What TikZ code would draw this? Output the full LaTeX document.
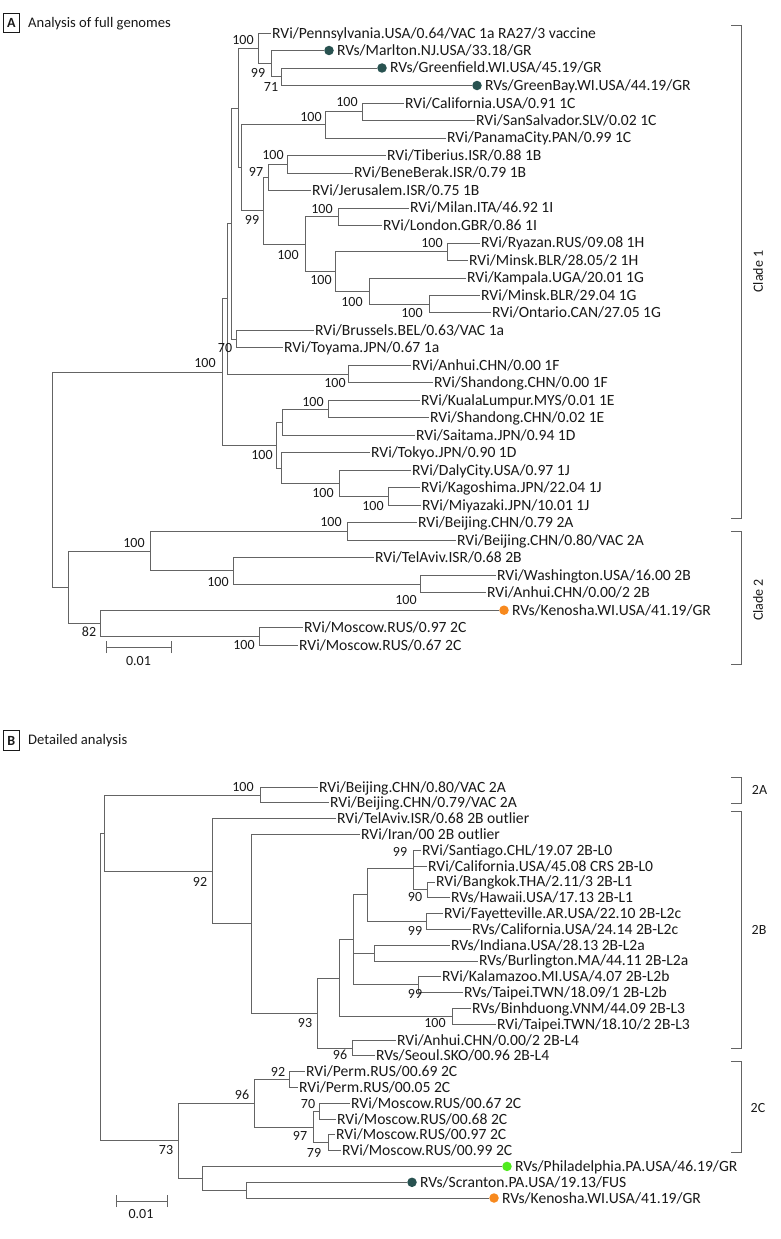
\documentclass[tikz,border=0pt]{standalone}
\usepackage{fontspec}
\setmainfont{Carlito}
\definecolor{lineg}{RGB}{100,100,100}
\definecolor{txt}{RGB}{25,25,25}
\definecolor{dteal}{RGB}{40,82,80}
\definecolor{dorange}{RGB}{247,137,30}
\definecolor{dgreen}{RGB}{80,235,30}
\newcommand\lblfont{\fontsize{15.6}{18}\selectfont}
\newcommand\numfont{\fontsize{14}{16}\selectfont}
\newcommand\ttlfont{\fontsize{14.6}{17}\selectfont}
\begin{document}
\begin{tikzpicture}[x=1pt,y=-1pt,
  br/.style={draw=lineg, line width=0.8pt},
  leaf/.style={anchor=west, inner xsep=1pt, inner ysep=0pt, text height=10pt, text depth=0pt, font=\lblfont, text=txt},
  bs/.style={inner sep=0pt, text height=9pt, text depth=0pt, font=\numfont, text=txt},
  dotn/.style={circle, inner sep=0pt, minimum size=9.5pt},
  panelbox/.style={draw=txt, line width=0.8pt, minimum width=16pt, minimum height=19.5pt, inner sep=0pt, font=\numfont\bfseries, text=txt},
  ttl/.style={anchor=west, inner sep=0pt, font=\ttlfont, text=txt},
  cladelbl/.style={inner sep=0pt, font=\numfont, text=txt}]
\useasboundingbox[fill=white] (0,0) rectangle (780,1239);

% ================= PANEL A =================
\node[panelbox] (boxA) at (11.3,23) {A};
\node[ttl] (titleA) at (28,24) {Analysis of full genomes};

% leaves
\node[leaf] (a1) at (271,33.0) {RVi/Pennsylvania.USA/0.64/VAC 1a RA27/3 vaccine};
\node[dotn, fill=dteal] (d2) at (329,50.5) {};
\node[leaf] (a2) at ([xshift=2pt]d2.east) {RVs/Marlton.NJ.USA/33.18/GR};
\node[dotn, fill=dteal] (d3) at (382,68.0) {};
\node[leaf] (a3) at ([xshift=2pt]d3.east) {RVs/Greenfield.WI.USA/45.19/GR};
\node[dotn, fill=dteal] (d4) at (477,85.5) {};
\node[leaf] (a4) at ([xshift=2pt]d4.east) {RVs/GreenBay.WI.USA/44.19/GR};
\node[leaf] (a5) at (404,103.0) {RVi/California.USA/0.91 1C};
\node[leaf] (a6) at (475,120.5) {RVi/SanSalvador.SLV/0.02 1C};
\node[leaf] (a7) at (446,137.9) {RVi/PanamaCity.PAN/0.99 1C};
\node[leaf] (a8) at (386,155.4) {RVi/Tiberius.ISR/0.88 1B};
\node[leaf] (a9) at (353,172.9) {RVi/BeneBerak.ISR/0.79 1B};
\node[leaf] (a10) at (311,190.4) {RVi/Jerusalem.ISR/0.75 1B};
\node[leaf] (a11) at (409,207.9) {RVi/Milan.ITA/46.92 1I};
\node[leaf] (a12) at (382,225.4) {RVi/London.GBR/0.86 1I};
\node[leaf] (a13) at (480,242.9) {RVi/Ryazan.RUS/09.08 1H};
\node[leaf] (a14) at (468,260.4) {RVi/Minsk.BLR/28.05/2 1H};
\node[leaf] (a15) at (466,277.9) {RVi/Kampala.UGA/20.01 1G};
\node[leaf] (a16) at (480,295.4) {RVi/Minsk.BLR/29.04 1G};
\node[leaf] (a17) at (491,312.8) {RVi/Ontario.CAN/27.05 1G};
\node[leaf] (a18) at (314,330.3) {RVi/Brussels.BEL/0.63/VAC 1a};
\node[leaf] (a19) at (283,347.8) {RVi/Toyama.JPN/0.67 1a};
\node[leaf] (a20) at (411,365.3) {RVi/Anhui.CHN/0.00 1F};
\node[leaf] (a21) at (433,382.8) {RVi/Shandong.CHN/0.00 1F};
\node[leaf] (a22) at (420,400.3) {RVi/KualaLumpur.MYS/0.01 1E};
\node[leaf] (a23) at (429,417.8) {RVi/Shandong.CHN/0.02 1E};
\node[leaf] (a24) at (415,435.3) {RVi/Saitama.JPN/0.94 1D};
\node[leaf] (a25) at (370,452.8) {RVi/Tokyo.JPN/0.90 1D};
\node[leaf] (a26) at (411,470.3) {RVi/DalyCity.USA/0.97 1J};
\node[leaf] (a27) at (420,487.7) {RVi/Kagoshima.JPN/22.04 1J};
\node[leaf] (a28) at (421,505.2) {RVi/Miyazaki.JPN/10.01 1J};
\node[leaf] (a29) at (417,522.7) {RVi/Beijing.CHN/0.79 2A};
\node[leaf] (a30) at (456,540.2) {RVi/Beijing.CHN/0.80/VAC 2A};
\node[leaf] (a31) at (374,557.7) {RVi/TelAviv.ISR/0.68 2B};
\node[leaf] (a32) at (496,575.2) {RVi/Washington.USA/16.00 2B};
\node[leaf] (a33) at (486,592.7) {RVi/Anhui.CHN/0.00/2 2B};
\node[dotn, fill=dorange] (d34) at (504,610.2) {};
\node[leaf] (a34) at ([xshift=2pt]d34.east) {RVs/Kenosha.WI.USA/41.19/GR};
\node[leaf] (a35) at (303,627.7) {RVi/Moscow.RUS/0.97 2C};
\node[leaf] (a36) at (298,645.2) {RVi/Moscow.RUS/0.67 2C};

% internal nodes
\coordinate (A71) at (281,76.75);
\coordinate (A99a) at (271,63.6);
\coordinate (A100a) at (258,48.3);
\coordinate (A1C2) at (362,111.75);
\coordinate (A1C) at (325,124.8);
\coordinate (A1Bp) at (287,164.2);
\coordinate (A97) at (268,177.3);
\coordinate (A1I) at (338,216.6);
\coordinate (A1H) at (447,251.6);
\coordinate (AG2) at (429,304.1);
\coordinate (A1G) at (369,291.0);
\coordinate (AHG) at (335,271.3);
\coordinate (AIHG) at (305,244.0);
\coordinate (A99b) at (263,210.6);
\coordinate (AX1) at (241,167.7);
\coordinate (AX2) at (238,108.0);
\coordinate (A1a) at (236,339.05);
\coordinate (A70) at (231,223.5);
\coordinate (A1F) at (348,374.05);
\coordinate (AX3) at (227,298.8);
\coordinate (A1E) at (328,409.05);
\coordinate (AED) at (282,422.2);
\coordinate (AKM) at (388,496.45);
\coordinate (A1J) at (339,483.4);
\coordinate (ATJ) at (281,468.1);
\coordinate (ADJ) at (276,445.1);
\coordinate (AC1) at (222,372.0);
\coordinate (A2A) at (347,531.45);
\coordinate (AWA) at (420,583.95);
\coordinate (A2B) at (233,570.8);
\coordinate (A2AB) at (150,551.1);
\coordinate (AMM) at (259,636.45);
\coordinate (A82) at (100,623.3);
\coordinate (AC2) at (68,587.2);
\coordinate (Aroot) at (52,479.6);

% branches
\draw[br] (A71) |- (d3.west);  \draw[br] (A71) |- (d4.west);
\draw[br] (A99a) |- (d2.west); \draw[br] (A99a) |- (A71);
\draw[br] (A100a) |- (a1.west); \draw[br] (A100a) |- (A99a);
\draw[br] (A1C2) |- (a5.west); \draw[br] (A1C2) |- (a6.west);
\draw[br] (A1C) |- (A1C2); \draw[br] (A1C) |- (a7.west);
\draw[br] (A1Bp) |- (a8.west); \draw[br] (A1Bp) |- (a9.west);
\draw[br] (A97) |- (A1Bp); \draw[br] (A97) |- (a10.west);
\draw[br] (A1I) |- (a11.west); \draw[br] (A1I) |- (a12.west);
\draw[br] (A1H) |- (a13.west); \draw[br] (A1H) |- (a14.west);
\draw[br] (AG2) |- (a16.west); \draw[br] (AG2) |- (a17.west);
\draw[br] (A1G) |- (a15.west); \draw[br] (A1G) |- (AG2);
\draw[br] (AHG) |- (A1H); \draw[br] (AHG) |- (A1G);
\draw[br] (AIHG) |- (A1I); \draw[br] (AIHG) |- (AHG);
\draw[br] (A99b) |- (A97); \draw[br] (A99b) |- (AIHG);
\draw[br] (AX1) |- (A1C); \draw[br] (AX1) |- (A99b);
\draw[br] (AX2) |- (A100a); \draw[br] (AX2) |- (AX1);
\draw[br] (A1a) |- (a18.west); \draw[br] (A1a) |- (a19.west);
\draw[br] (A70) |- (AX2); \draw[br] (A70) |- (A1a);
\draw[br] (A1F) |- (a20.west); \draw[br] (A1F) |- (a21.west);
\draw[br] (AX3) |- (A70); \draw[br] (AX3) |- (A1F);
\draw[br] (A1E) |- (a22.west); \draw[br] (A1E) |- (a23.west);
\draw[br] (AED) |- (A1E); \draw[br] (AED) |- (a24.west);
\draw[br] (AKM) |- (a27.west); \draw[br] (AKM) |- (a28.west);
\draw[br] (A1J) |- (a26.west); \draw[br] (A1J) |- (AKM);
\draw[br] (ATJ) |- (a25.west); \draw[br] (ATJ) |- (A1J);
\draw[br] (ADJ) |- (AED); \draw[br] (ADJ) |- (ATJ);
\draw[br] (AC1) |- (AX3); \draw[br] (AC1) |- (ADJ);
\draw[br] (A2A) |- (a29.west); \draw[br] (A2A) |- (a30.west);
\draw[br] (AWA) |- (a32.west); \draw[br] (AWA) |- (a33.west);
\draw[br] (A2B) |- (a31.west); \draw[br] (A2B) |- (AWA);
\draw[br] (A2AB) |- (A2A); \draw[br] (A2AB) |- (A2B);
\draw[br] (AMM) |- (a35.west); \draw[br] (AMM) |- (a36.west);
\draw[br] (A82) |- (d34.west); \draw[br] (A82) |- (AMM);
\draw[br] (AC2) |- (A2AB); \draw[br] (AC2) |- (A82);
\draw[br] (Aroot) |- (AC1); \draw[br] (Aroot) |- (AC2);

% bootstrap labels
\node[bs] (sa1) at (243,40) {100};
\node[bs] (sa2) at (258,73) {99};
\node[bs] (sa3) at (271,87) {71};
\node[bs] (sa4) at (347,102) {100};
\node[bs] (sa5) at (311,117) {100};
\node[bs] (sa6) at (273,155) {100};
\node[bs] (sa7) at (256,172) {97};
\node[bs] (sa8) at (252,220) {99};
\node[bs] (sa9) at (322,209) {100};
\node[bs] (sa10) at (288,255) {100};
\node[bs] (sa11) at (432,243) {100};
\node[bs] (sa12) at (321,280) {100};
\node[bs] (sa13) at (352,302) {100};
\node[bs] (sa14) at (412,313) {100};
\node[bs] (sa15) at (225,348) {70};
\node[bs] (sa16) at (205,363) {100};
\node[bs] (sa17) at (335,383) {100};
\node[bs] (sa18) at (313,402) {100};
\node[bs] (sa19) at (262,455) {100};
\node[bs] (sa20) at (323,493) {100};
\node[bs] (sa21) at (373,506) {100};
\node[bs] (sa22) at (134,543) {100};
\node[bs] (sa23) at (331,522) {100};
\node[bs] (sa24) at (218,582) {100};
\node[bs] (sa25) at (406,600) {100};
\node[bs] (sa26) at (89,632) {82};
\node[bs] (sa27) at (244,645) {100};

% scale bar A
\coordinate (sbA1) at (106,647); \coordinate (sbA2) at (171,647);
\draw[br] (sbA1) -- (sbA2);
\draw[br] ([yshift=-6pt]sbA1) -- ([yshift=6pt]sbA1);
\draw[br] ([yshift=-6pt]sbA2) -- ([yshift=6pt]sbA2);
\node[bs] (sbAl) at (138.5,661) {0.01};

% clade brackets A
\coordinate (cA1t) at (741,25); \coordinate (cA1b) at (741,518);
\draw[br] ([xshift=-10pt]cA1t) -- (cA1t) -- (cA1b) -- ([xshift=-10pt]cA1b);
\node[cladelbl, rotate=90] (clade1) at (758,271.5) {Clade 1};
\coordinate (cA2t) at (741,531); \coordinate (cA2b) at (741,664);
\draw[br] ([xshift=-10pt]cA2t) -- (cA2t) -- (cA2b) -- ([xshift=-10pt]cA2b);
\node[cladelbl, rotate=90] (clade2) at (758,600) {Clade 2};

% ================= PANEL B =================
\node[panelbox] (boxB) at (11.3,740.5) {B};
\node[ttl] (titleB) at (28,741) {Detailed analysis};

\node[leaf] (b1) at (318,787.0) {RVi/Beijing.CHN/0.80/VAC 2A};
\node[leaf] (b2) at (329,802.8) {RVi/Beijing.CHN/0.79/VAC 2A};
\node[leaf] (b3) at (336,818.6) {RVi/TelAviv.ISR/0.68 2B outlier};
\node[leaf] (b4) at (360,834.4) {RVi/Iran/00 2B outlier};
\node[leaf] (b5) at (421,850.2) {RVi/Santiago.CHL/19.07 2B-L0};
\node[leaf] (b6) at (427,866.1) {RVi/California.USA/45.08 CRS 2B-L0};
\node[leaf] (b7) at (435,881.9) {RVi/Bangkok.THA/2.11/3 2B-L1};
\node[leaf] (b8) at (450,897.7) {RVs/Hawaii.USA/17.13 2B-L1};
\node[leaf] (b9) at (443,913.5) {RVi/Fayetteville.AR.USA/22.10 2B-L2c};
\node[leaf] (b10) at (471,929.3) {RVs/California.USA/24.14 2B-L2c};
\node[leaf] (b11) at (450,945.1) {RVs/Indiana.USA/28.13 2B-L2a};
\node[leaf] (b12) at (478,960.9) {RVs/Burlington.MA/44.11 2B-L2a};
\node[leaf] (b13) at (441,976.7) {RVi/Kalamazoo.MI.USA/4.07 2B-L2b};
\node[leaf] (b14) at (463,992.5) {RVs/Taipei.TWN/18.09/1 2B-L2b};
\node[leaf] (b15) at (471,1008.3) {RVs/Binhduong.VNM/44.09 2B-L3};
\node[leaf] (b16) at (496,1024.2) {RVi/Taipei.TWN/18.10/2 2B-L3};
\node[leaf] (b17) at (396,1040.0) {RVi/Anhui.CHN/0.00/2 2B-L4};
\node[leaf] (b18) at (375,1055.8) {RVs/Seoul.SKO/00.96 2B-L4};
\node[leaf] (b19) at (305,1071.6) {RVi/Perm.RUS/00.69 2C};
\node[leaf] (b20) at (298,1087.4) {RVi/Perm.RUS/00.05 2C};
\node[leaf] (b21) at (350,1103.2) {RVi/Moscow.RUS/00.67 2C};
\node[leaf] (b22) at (336,1119.0) {RVi/Moscow.RUS/00.68 2C};
\node[leaf] (b23) at (335,1134.8) {RVi/Moscow.RUS/00.97 2C};
\node[leaf] (b24) at (341,1150.6) {RVi/Moscow.RUS/00.99 2C};
\node[dotn, fill=dgreen] (e25) at (507,1166.4) {};
\node[leaf] (b25) at ([xshift=2pt]e25.east) {RVs/Philadelphia.PA.USA/46.19/GR};
\node[dotn, fill=dteal] (e26) at (412,1182.3) {};
\node[leaf] (b26) at ([xshift=2pt]e26.east) {RVs/Scranton.PA.USA/19.13/FUS};
\node[dotn, fill=dorange] (e27) at (494,1198.0) {};
\node[leaf] (b27) at ([xshift=2pt]e27.east) {RVs/Kenosha.WI.USA/41.19/GR};

\coordinate (B2A) at (260,794.9);
\coordinate (BL1) at (427,889.8);
\coordinate (BS) at (413,868);
\coordinate (BL2c) at (426,921.4);
\coordinate (BP) at (367,894.7);
\coordinate (BL2a) at (374,953);
\coordinate (BL2b) at (418,984.6);
\coordinate (BQ) at (353,939.7);
\coordinate (BL3) at (452,1016.25);
\coordinate (BR) at (339,978);
\coordinate (BL4) at (352,1047.9);
\coordinate (B93) at (317,1013);
\coordinate (BIran) at (251,923.7);
\coordinate (B92) at (212,871.2);
\coordinate (BX) at (104,833);
\coordinate (BPerm) at (289,1079.5);
\coordinate (B70) at (319,1111.1);
\coordinate (B79) at (328,1142.7);
\coordinate (B97) at (313,1126.9);
\coordinate (B96) at (254,1103.2);
\coordinate (BSK) at (246,1190.1);
\coordinate (BPh) at (202,1178.3);
\coordinate (B73) at (178,1140.7);
\coordinate (Broot) at (100,986.9);

\draw[br] (B2A) |- (b1.west); \draw[br] (B2A) |- (b2.west);
\draw[br] (BL1) |- (b7.west); \draw[br] (BL1) |- (b8.west);
\draw[br] (BS) |- (b5.west); \draw[br] (BS) |- (b6.west); \draw[br] (BS) |- (BL1);
\draw[br] (BL2c) |- (b9.west); \draw[br] (BL2c) |- (b10.west);
\draw[br] (BP) |- (BS); \draw[br] (BP) |- (BL2c);
\draw[br] (BL2a) |- (b11.west); \draw[br] (BL2a) |- (b12.west);
\draw[br] (BL2b) |- (b13.west); \draw[br] (BL2b) |- (b14.west);
\draw[br] (BQ) |- (BP); \draw[br] (BQ) |- (BL2a); \draw[br] (BQ) |- (BL2b);
\draw[br] (BL3) |- (b15.west); \draw[br] (BL3) |- (b16.west);
\draw[br] (BR) |- (BQ); \draw[br] (BR) |- (BL3);
\draw[br] (BL4) |- (b17.west); \draw[br] (BL4) |- (b18.west);
\draw[br] (B93) |- (BR); \draw[br] (B93) |- (BL4);
\draw[br] (BIran) |- (b4.west); \draw[br] (BIran) |- (B93);
\draw[br] (B92) |- (b3.west); \draw[br] (B92) |- (BIran);
\draw[br] (BX) |- (B2A); \draw[br] (BX) |- (B92);
\draw[br] (BPerm) |- (b19.west); \draw[br] (BPerm) |- (b20.west);
\draw[br] (B70) |- (b21.west); \draw[br] (B70) |- (b22.west);
\draw[br] (B79) |- (b23.west); \draw[br] (B79) |- (b24.west);
\draw[br] (B97) |- (B70); \draw[br] (B97) |- (B79);
\draw[br] (B96) |- (BPerm); \draw[br] (B96) |- (B97);
\draw[br] (BSK) |- (e26.west); \draw[br] (BSK) |- (e27.west);
\draw[br] (BPh) |- (e25.west); \draw[br] (BPh) |- (BSK);
\draw[br] (B73) |- (B96); \draw[br] (B73) |- (BPh);
\draw[br] (Broot) |- (BX); \draw[br] (Broot) |- (B73);

\node[bs] (sb1) at (243,787) {100};
\node[bs] (sb2) at (200,882) {92};
\node[bs] (sb3) at (400,852) {99};
\node[bs] (sb4) at (415,897) {90};
\node[bs] (sb5) at (415,931) {99};
\node[bs] (sb6) at (415,994) {99};
\node[bs] (sb7) at (435,1023) {100};
\node[bs] (sb8) at (305,1023) {93};
\node[bs] (sb9) at (340,1055) {96};
\node[bs] (sb10) at (278,1072) {92};
\node[bs] (sb11) at (242,1095) {96};
\node[bs] (sb12) at (308,1104) {70};
\node[bs] (sb13) at (300,1136) {97};
\node[bs] (sb14) at (314,1153) {79};
\node[bs] (sb15) at (166,1150) {73};

% scale bar B
\coordinate (sbB1) at (116,1201); \coordinate (sbB2) at (167,1201);
\draw[br] (sbB1) -- (sbB2);
\draw[br] ([yshift=-6pt]sbB1) -- ([yshift=6pt]sbB1);
\draw[br] ([yshift=-6pt]sbB2) -- ([yshift=6pt]sbB2);
\node[bs] (sbBl) at (141,1214) {0.01};

% brackets B
\coordinate (c2At) at (741,777); \coordinate (c2Ab) at (741,803);
\draw[br] ([xshift=-10pt]c2At) -- (c2At) -- (c2Ab) -- ([xshift=-10pt]c2Ab);
\node[cladelbl] (l2A) at (759.5,790) {2A};
\coordinate (c2Bt) at (741,811); \coordinate (c2Bb) at (741,1048);
\draw[br] ([xshift=-10pt]c2Bt) -- (c2Bt) -- (c2Bb) -- ([xshift=-10pt]c2Bb);
\node[cladelbl] (l2B) at (759,930) {2B};
\coordinate (c2Ct) at (741,1061); \coordinate (c2Cb) at (741,1152);
\draw[br] ([xshift=-10pt]c2Ct) -- (c2Ct) -- (c2Cb) -- ([xshift=-10pt]c2Cb);
\node[cladelbl] (l2C) at (758,1108) {2C};
\end{tikzpicture}
\end{document}
